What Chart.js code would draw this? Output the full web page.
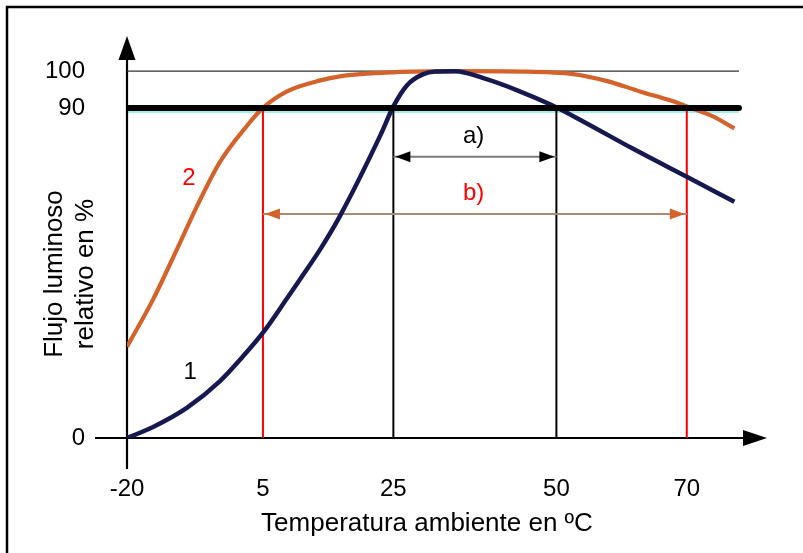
<!DOCTYPE html>
<html>
<head>
<meta charset="utf-8">
<title>Flujo luminoso relativo</title>
<script src="https://cdn.jsdelivr.net/npm/chart.js@4.4.0/dist/chart.umd.min.js"></script>
<style>
	html, body { margin: 0; padding: 0; background: #fff; }
	#contenedor { position: relative; width: 803px; height: 553px; }
</style>
</head>
<body>
<div id="contenedor"><canvas id="grafico"></canvas></div>

<script>
// curva 1 (azul): temperatura en ºC y flujo relativo en %
var temp1  = [-20, -15.2, -9, -2.9, 1.3, 5, 8.7, 10.7, 13.8, 16.8, 23, 25, 27.1, 29.6, 31.5, 34.5, 38.8, 44, 49.1, 54.1, 61.7, 70, 77.3];
var flujo1 = [0, 3.0, 8.2, 15.5, 22.2, 28.7, 38.1, 43.3, 51.5, 60.5, 82.5, 90.4, 96.2, 99.2, 99.9, 100, 98.1, 94.8, 90.9, 86.3, 78.9, 71.2, 64.4];

// curva 2 (naranja)
var temp2  = [-20, -15.2, -10.8, -7.1, -2.9, 2.1, 5, 8.7, 13.8, 16.8, 25, 35, 45, 52.6, 57.8, 62.8, 67.9, 70, 74, 77.3];
var flujo2 = [24.9, 37.8, 51.5, 63.3, 75.3, 85.2, 90, 94.5, 97.5, 98.6, 99.7, 100, 99.9, 99.2, 97.3, 94.5, 91.8, 90.4, 87.7, 84.4];

var ticksX = [-20, 5, 25, 50, 70];
var ticksY = [0, 90, 100];

// lineas verticales hasta el 90 %
var marcas = [5, 25, 50, 70];
var nivel = 90;
var finLineas = 78;

// rangos a) y b)
var rangoA = [25, 50];
var alturaA = 76.7;
var rangoB = [5, 70];
var alturaB = 61.1;

// eje de temperatura: por debajo del quiebre los grados ocupan menos ancho
class EscalaTemperatura extends Chart.LinearScale {
	aEje(v) {
		var q = this.options.quiebre, f = this.options.factor;
		return v < q ? q + (v - q) * f : v;
	}
	deEje(u) {
		var q = this.options.quiebre, f = this.options.factor;
		return u < q ? q + (u - q) / f : u;
	}
	getPixelForValue(v) {
		if (v === null) return NaN;
		var a = this.aEje(this.min), b = this.aEje(this.max);
		return this.getPixelForDecimal((this.aEje(v) - a) / (b - a));
	}
	getValueForPixel(p) {
		var a = this.aEje(this.min), b = this.aEje(this.max);
		return this.deEje(a + this.getDecimalForPixel(p) * (b - a));
	}
}
EscalaTemperatura.id = 'temperatura';
EscalaTemperatura.defaults = Chart.LinearScale.defaults;
Chart.register(EscalaTemperatura);

function puntos(xs, ys) {
	return xs.map(function (x, i) { return { x: x, y: ys[i] }; });
}

function linea(data, color, ancho, extra) {
	var ds = {
		data: data,
		borderColor: color,
		borderWidth: ancho,
		pointRadius: 0,
		fill: false
	};
	for (var k in extra) ds[k] = extra[k];
	return ds;
}

var fuente = '"Liberation Sans", Arial, sans-serif';

function punta(ctx, x, y, dir, largo, ancho, color) {
	ctx.beginPath();
	ctx.moveTo(x, y);
	ctx.lineTo(x - dir * largo, y - ancho);
	ctx.lineTo(x - dir * largo, y + ancho);
	ctx.closePath();
	ctx.fillStyle = color;
	ctx.fill();
}

// sin relleno extra por las etiquetas, el area queda fija
function sinRelleno(s) {
	s.paddingTop = 0;
	s.paddingBottom = 0;
	s.paddingLeft = 0;
	s.paddingRight = 0;
}

var dibujo = {
	id: 'dibujo',
	beforeDraw: function (chart) {
		var ctx = chart.ctx;
		ctx.save();
		ctx.fillStyle = '#fff';
		ctx.fillRect(0, 0, chart.width, chart.height);
		// marco
		ctx.strokeStyle = '#000';
		ctx.lineWidth = 2.5;
		ctx.beginPath();
		ctx.moveTo(chart.width, 7);
		ctx.lineTo(7, 7);
		ctx.lineTo(7, chart.height);
		ctx.stroke();
		ctx.restore();
	},
	beforeDatasetsDraw: function (chart) {
		var ctx = chart.ctx, xs = chart.scales.x, ys = chart.scales.y;
		var x0 = xs.getPixelForValue(-20), y0 = ys.getPixelForValue(0);
		var area = chart.chartArea;
		ctx.save();
		// linea celeste bajo el 90 %
		ctx.strokeStyle = '#9eeff3';
		ctx.lineWidth = 2;
		ctx.beginPath();
		ctx.moveTo(x0, ys.getPixelForValue(nivel) + 4);
		ctx.lineTo(xs.getPixelForValue(finLineas), ys.getPixelForValue(nivel) + 4);
		ctx.stroke();
		// ejes con flecha
		ctx.strokeStyle = '#000';
		ctx.lineWidth = 2.2;
		ctx.beginPath();
		ctx.moveTo(x0 - 32, y0);
		ctx.lineTo(area.right - 10, y0);
		ctx.moveTo(x0, y0 + 31);
		ctx.lineTo(x0, area.top + 10);
		ctx.stroke();
		punta(ctx, area.right, y0, 1, 24, 8, '#000');
		ctx.beginPath();
		ctx.moveTo(x0, area.top);
		ctx.lineTo(x0 - 8.5, area.top + 24);
		ctx.lineTo(x0 + 8.5, area.top + 24);
		ctx.closePath();
		ctx.fill();
		ctx.restore();
	},
	afterDatasetsDraw: function (chart, args, opts) {
		var ctx = chart.ctx, xs = chart.scales.x, ys = chart.scales.y;
		ctx.save();
		// puntas de las flechas a) y b)
		chart.data.datasets.forEach(function (ds, i) {
			if (!ds.puntas) return;
			var pts = chart.getDatasetMeta(i).data;
			var p0 = pts[0], p1 = pts[pts.length - 1];
			punta(ctx, p0.x + 2, p0.y, -1, 15, 5.5, ds.puntas);
			punta(ctx, p1.x - 2, p1.y, 1, 15, 5.5, ds.puntas);
		});
		// textos sobre el grafico
		ctx.textAlign = 'center';
		ctx.textBaseline = 'middle';
		ctx.font = '24px ' + fuente;
		opts.textos.forEach(function (t) {
			ctx.fillStyle = t.color;
			ctx.fillText(t.texto, xs.getPixelForValue(t.x), ys.getPixelForValue(t.y));
		});
		// titulos de los ejes
		ctx.fillStyle = '#000';
		ctx.textBaseline = 'alphabetic';
		ctx.font = '26px ' + fuente;
		ctx.fillText('Temperatura ambiente en ºC', 427, 531);
		ctx.translate(62, 274);
		ctx.rotate(-Math.PI / 2);
		ctx.fillText('Flujo luminoso', 0, 0);
		ctx.fillText('relativo en %', 0, 31);
		ctx.restore();
	}
};

var datasets = [
	linea(puntos([-20, finLineas], [nivel, nivel]), '#000', 6, { borderCapStyle: 'round' }),
	linea(puntos(temp1, flujo1), '#16194f', 4.5, { cubicInterpolationMode: 'monotone' }),
	linea(puntos(temp2, flujo2), '#d4622b', 4.2, { cubicInterpolationMode: 'monotone' }),
	linea(puntos([-20, finLineas], [100, 100]), '#333', 1.2),
	linea(puntos(rangoA, [alturaA, alturaA]), '#7a7a7a', 2, { puntas: '#000' }),
	linea(puntos(rangoB, [alturaB, alturaB]), '#a88b74', 2, { puntas: '#d4622b' })
];
marcas.forEach(function (t, i) {
	var color = (i === 0 || i === marcas.length - 1) ? '#ff0000' : '#000';
	datasets.push(linea(puntos([t, t], [0, nivel]), color, 2));
});

new Chart(document.getElementById('grafico'), {
	type: 'line',
	data: { datasets: datasets },
	options: {
		responsive: true,
		maintainAspectRatio: false,
		animation: false,
		layout: { autoPadding: false, padding: { top: 36, right: 36, left: 0, bottom: 0 } },
		plugins: {
			legend: { display: false },
			tooltip: { enabled: false },
			dibujo: {
				textos: [
					{ texto: 'a)', x: 37.3, y: 82.2, color: '#000' },
					{ texto: 'b)', x: 37.3, y: 66.6, color: '#ff0000' },
					{ texto: '1', x: -8.4, y: 17.8, color: '#000' },
					{ texto: '2', x: -8.6, y: 70.7, color: '#ff0000' }
				]
			}
		},
		scales: {
			x: {
				type: 'temperatura',
				min: -20,
				max: 82.3,
				quiebre: 5,
				factor: 0.834,
				grid: { display: false, drawTicks: false },
				border: { display: false },
				ticks: { padding: 37, color: '#000', autoSkip: false, maxRotation: 0, font: { family: fuente, size: 24 } },
				afterBuildTicks: function (s) { s.ticks = ticksX.map(function (v) { return { value: v }; }); },
				afterFit: function (s) { s.height = 115; sinRelleno(s); }
			},
			y: {
				type: 'linear',
				min: 0,
				max: 109.6,
				grid: { display: false, drawTicks: false },
				border: { display: false },
				ticks: { padding: 42, color: '#000', font: { family: fuente, size: 24 } },
				afterBuildTicks: function (s) { s.ticks = ticksY.map(function (v) { return { value: v }; }); },
				afterFit: function (s) { s.width = 127; sinRelleno(s); }
			}
		}
	},
	plugins: [dibujo]
});
</script>
</body>
</html>
